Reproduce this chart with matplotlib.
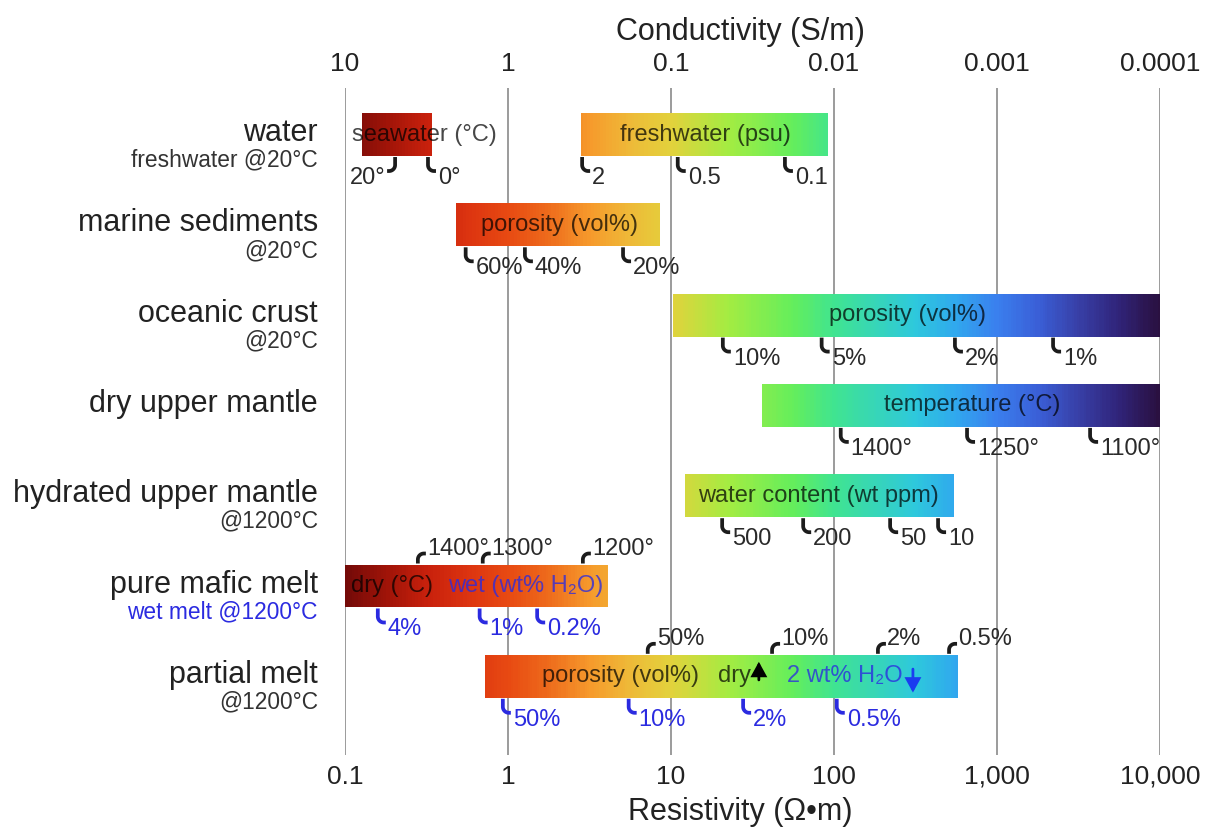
import numpy as np
import matplotlib.pyplot as plt
import matplotlib.transforms as mtransforms
from matplotlib.colors import LinearSegmentedColormap, Normalize
from matplotlib.ticker import NullLocator

plt.rcParams["font.family"] = ["Liberation Sans", "DejaVu Sans"]

# rows, top to bottom
rows = ["water", "marine sediments", "oceanic crust", "dry upper mantle",
        "hydrated upper mantle", "pure mafic melt", "partial melt"]
row_notes = ["freshwater @20°C", "@20°C", "@20°C", "", "@1200°C",
             "wet melt @1200°C", "@1200°C"]
row_note_colors = ["#333333"] * 5 + ["#2b2be0", "#333333"]

# resistivity ranges (ohm m)
bar_rows = [0, 0, 1, 2, 3, 4, 5, 6]
bar_lo = [0.127, 2.8, 0.48, 10.3, 36, 12.2, 0.1, 0.72]
bar_hi = [0.34, 92, 8.6, 10000, 10000, 545, 4.1, 575]

# text inside bars: row, resistivity at anchor, text, alignment, colour
bar_text_rows = [0, 0, 1, 2, 3, 4, 5, 5, 6, 6, 6]
bar_text_x = [0.305, 16.2, 2.08, 284, 703, 79.8, 0.194, 1.29, 4.87, 31.0, 51.5]
bar_texts = ["seawater (°C)", "freshwater (psu)", "porosity (vol%)",
             "porosity (vol%)", "temperature (°C)", "water content (wt ppm)",
             "dry (°C)", "wet (wt% H₂O)", "porosity (vol%)", "dry", "2 wt% H₂O"]
bar_text_ha = ["center"] * 9 + ["right", "left"]
bar_text_blue = [False] * 7 + [True, False, False, True]

# hooked value labels: row, resistivity, label, side, direction, blue?
hooks = [
    (0, 0.203, "20°", "below", -1, False),
    (0, 0.323, "0°", "below", 1, False),
    (0, 2.85, "2", "below", 1, False),
    (0, 11.0, "0.5", "below", 1, False),
    (0, 50, "0.1", "below", 1, False),
    (1, 0.55, "60%", "below", 1, False),
    (1, 1.27, "40%", "below", 1, False),
    (1, 5.08, "20%", "below", 1, False),
    (2, 20.8, "10%", "below", 1, False),
    (2, 84, "5%", "below", 1, False),
    (2, 552, "2%", "below", 1, False),
    (2, 2208, "1%", "below", 1, False),
    (3, 110, "1400°", "below", 1, False),
    (3, 655, "1250°", "below", 1, False),
    (3, 3725, "1100°", "below", 1, False),
    (4, 20.6, "500", "below", 1, False),
    (4, 64.7, "200", "below", 1, False),
    (4, 221, "50", "below", 1, False),
    (4, 435, "10", "below", 1, False),
    (5, 0.28, "1400°", "above", 1, False),
    (5, 0.70, "1300°", "above", 1, False),
    (5, 2.88, "1200°", "above", 1, False),
    (5, 0.159, "4%", "below", 1, True),
    (5, 0.67, "1%", "below", 1, True),
    (5, 1.51, "0.2%", "below", 1, True),
    (6, 7.2, "50%", "above", 1, False),
    (6, 41.7, "10%", "above", 1, False),
    (6, 186, "2%", "above", 1, False),
    (6, 508, "0.5%", "above", 1, False),
    (6, 0.93, "50%", "below", 1, True),
    (6, 5.5, "10%", "below", 1, True),
    (6, 27.7, "2%", "below", 1, True),
    (6, 104, "0.5%", "below", 1, True),
]

# dry (up) / wet (down) arrows in partial melt row
arrow_x = [34.6, 305]
arrow_up = [True, False]

res_ticks = [0.1, 1, 10, 100, 1000, 10000]
res_labels = ["0.1", "1", "10", "100", "1,000", "10,000"]
cond_ticks = [10, 1, 0.1, 0.01, 0.001, 0.0001]
cond_labels = ["10", "1", "0.1", "0.01", "0.001", "0.0001"]

cmap = LinearSegmentedColormap.from_list("res", [
    (0.00, "#740a08"), (0.05, "#a01408"), (0.10, "#c8200c"), (0.15, "#dc3410"),
    (0.20, "#e84a12"), (0.25, "#ee6c1c"), (0.30, "#f69a2c"), (0.35, "#eeba38"),
    (0.40, "#e2d23c"), (0.47, "#a4ec42"), (0.55, "#64ee5c"), (0.60, "#40e490"),
    (0.70, "#2ec8dc"), (0.75, "#30a8ee"), (0.80, "#3a80ee"), (0.85, "#3a60d8"),
    (0.90, "#3840a8"), (0.95, "#30247a"), (1.00, "#2a1040")])
norm = Normalize(-1, 4)

BLUE = "#2b2be0"
HOOK = "#1c1c1c"
BAR_H = 0.476

fig = plt.figure(figsize=(12.13, 8.32), dpi=100)
ax = fig.add_axes([0.2844, 0.0925, 0.6719, 0.8017])
ax.set_xscale("log")
ax.set_xlim(0.1, 10000)
ax.set_ylim(6.872, -0.515)

for r, lo, hi in zip(bar_rows, bar_lo, bar_hi):
    xe = np.logspace(np.log10(lo), np.log10(hi), 200)
    c = np.log10(np.sqrt(xe[:-1] * xe[1:]))[np.newaxis, :]
    ax.pcolormesh(xe, [r - BAR_H / 2, r + BAR_H / 2], c, cmap=cmap, norm=norm,
                  shading="flat", zorder=2, antialiased=False)

for r, x, t, ha, blue in zip(bar_text_rows, bar_text_x, bar_texts,
                             bar_text_ha, bar_text_blue):
    col = BLUE if blue else "black"
    ax.text(x, r, t, ha=ha, va="center", fontsize=17, color=col,
            alpha=0.78 if blue else 0.72, zorder=4)

# hooks drawn in pixel units around the bar edge
def hook(r, x, label, side, d, blue):
    col = BLUE if blue else HOOK
    tcol = BLUE if blue else "#2a2a2a"
    if side == "below":
        y0 = r + BAR_H / 2
        th = np.linspace(np.pi, 1.5 * np.pi, 12)
        px = np.r_[0, 0, 6 + 6 * np.cos(th), 8]
        py = np.r_[-1, -9, -9 + 6 * np.sin(th), -15]
        tx, ty = 10, -22
    else:
        y0 = r - BAR_H / 2
        th = np.linspace(np.pi, 0.5 * np.pi, 12)
        px = np.r_[0, 0, 6 + 6 * np.cos(th), 8]
        py = np.r_[1, 5, 5 + 6 * np.sin(th), 11]
        tx, ty = 9, 15.5
    px = px * d
    trans = (mtransforms.Affine2D().scale(1 / 100.0) + fig.dpi_scale_trans
             + mtransforms.ScaledTranslation(x, y0, ax.transData))
    ax.plot(px, py, transform=trans, color=col, lw=2.7, zorder=5,
            solid_capstyle="butt", solid_joinstyle="round", clip_on=False)
    ax.text(tx * d, ty, label, transform=trans, fontsize=17, color=tcol,
            ha="left" if d > 0 else "right", va="center", zorder=5)

for h in hooks:
    hook(*h)

for x, up in zip(arrow_x, arrow_up):
    if up:
        tail, head, col = 6.04, 5.84, "black"
    else:
        tail, head, col = 5.92, 6.18, "#1a3cf0"
    ax.annotate("", xy=(x, head), xytext=(x, tail),
                arrowprops=dict(arrowstyle="-|>,head_width=0.22,head_length=0.4",
                                color=col, lw=2.0, shrinkA=0, shrinkB=0,
                                joinstyle="miter", mutation_scale=20), zorder=5)

# row labels
ylab = ax.get_yaxis_transform()
for i, (name, note, nc) in enumerate(zip(rows, row_notes, row_note_colors)):
    ax.annotate(name, xy=(0, i), xycoords=ylab, xytext=(-19.5, 1),
                textcoords="offset points", ha="right", va="center",
                fontsize=22, color="#222222")
    if note:
        ax.annotate(note, xy=(0, i), xycoords=ylab, xytext=(-19.5, -18.5),
                    textcoords="offset points", ha="right", va="center",
                    fontsize=16.4, color=nc)

ax.xaxis.set_minor_locator(NullLocator())
ax.set_xticks(res_ticks, res_labels)
ax.tick_params(axis="x", length=0, pad=7, labelsize=19, colors="#222222")
ax.set_yticks([])
ax.grid(axis="x", color="#8a8a8a", lw=1.2)
ax.set_axisbelow(True)
for s in ax.spines.values():
    s.set_visible(False)
ax.set_xlabel("Resistivity (Ω•m)", fontsize=22, labelpad=6, color="#222222",
              x=0.485)

sec = ax.secondary_xaxis("top", functions=(lambda v: 1 / v, lambda v: 1 / v))
sec.set_xticks(cond_ticks, cond_labels)
sec.xaxis.set_minor_locator(NullLocator())
sec.tick_params(axis="x", length=0, pad=9, labelsize=19, colors="#222222")
for s in sec.spines.values():
    s.set_visible(False)
sec.set_xlabel("Conductivity (S/m)", fontsize=22, labelpad=8, color="#222222",
               x=0.485)

fig.savefig("out.png", dpi=100)
